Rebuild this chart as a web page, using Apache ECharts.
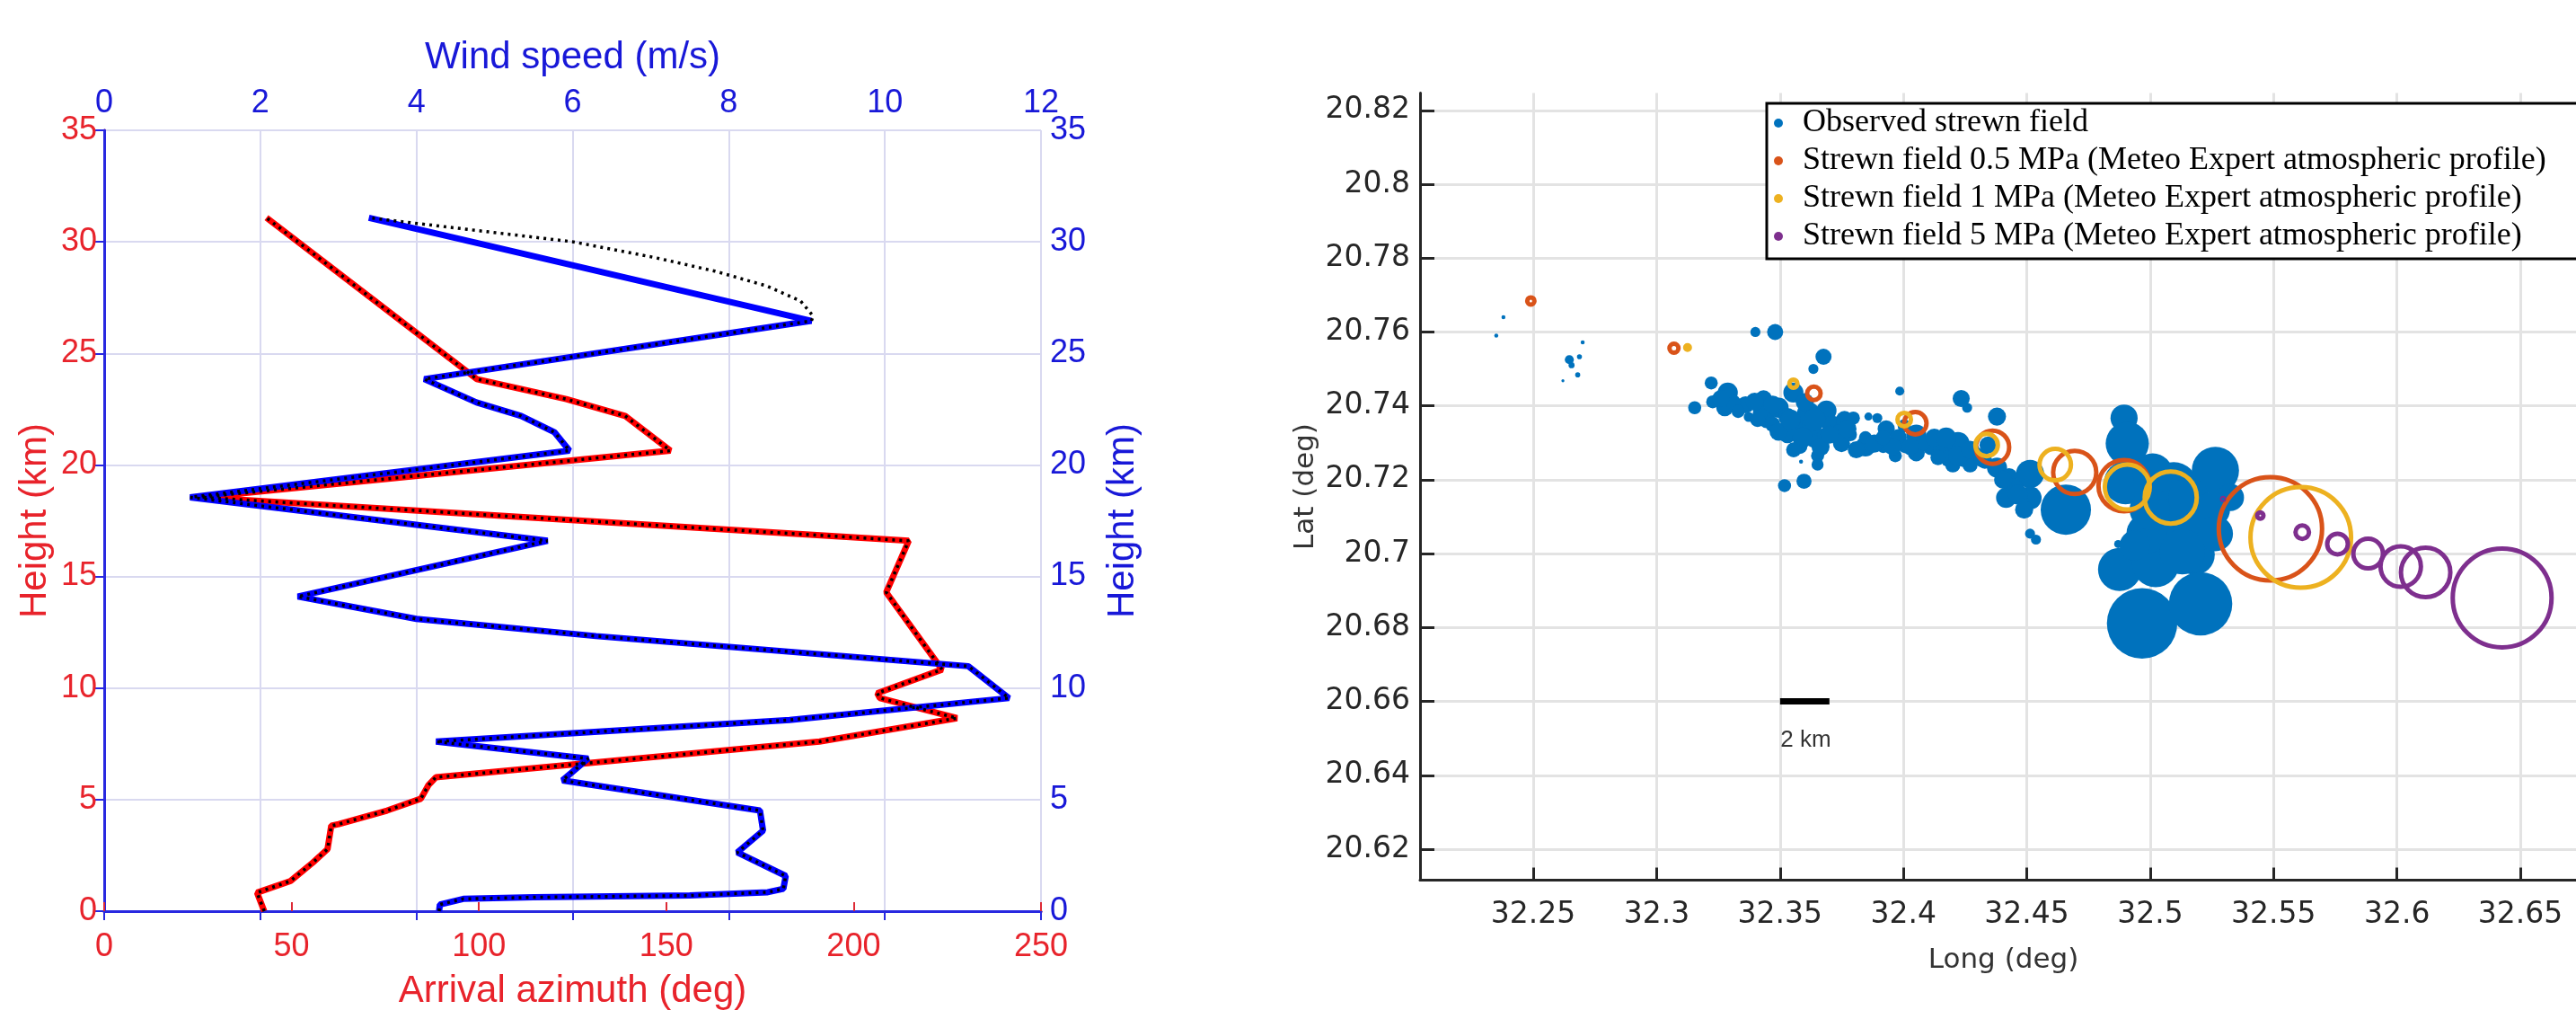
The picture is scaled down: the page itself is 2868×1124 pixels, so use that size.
<!DOCTYPE html>
<html>
<head>
<meta charset="utf-8">
<script src="https://cdn.jsdelivr.net/npm/echarts@6/dist/echarts.min.js"></script>
<style>
  html, body { margin: 0; padding: 0; background: #fff; }
  #chart { width: 2868px; height: 1124px; }
</style>
</head>
<body>
<div id="chart"></div>
<script>
// ---- left panel: profiles vs height ----
const azimuthDeg = [42.7, 40.8, 49.7, 55.7, 59.6, 60.6, 62.6, 75.5, 84.5, 86.5, 88.5, 190.9, 227.6, 207, 206.3, 223.6, 208.7, 214.7, 25.8, 151.1, 139, 123.3, 99.4, 43.3]
const azimuthKm = [0, 0.83, 1.35, 2.18, 2.78, 3.83, 3.9, 4.51, 5.04, 5.64, 6.0, 7.6, 8.65, 9.55, 9.77, 10.83, 14.29, 16.6, 18.55, 20.64, 22.2, 22.95, 23.85, 31.08]

const windSpeed = [4.29, 4.3, 4.6, 5.5, 7.5, 8.5, 8.7, 8.73, 8.11, 8.44, 8.40, 5.87, 6.2, 4.25, 8.78, 11.59, 11.07, 6.3, 4.0, 2.48, 5.68, 1.10, 5.96, 5.77, 5.34, 4.77, 4.10, 9.06, 3.39]
const windKm = [0, 0.3, 0.55, 0.62, 0.7, 0.85, 1.0, 1.58, 2.63, 3.61, 4.51, 5.86, 6.84, 7.6, 8.57, 9.55, 10.98, 12.33, 13.1, 14.1, 16.6, 18.55, 20.64, 21.46, 22.2, 22.8, 23.85, 26.46, 31.08]

// model wind profile (black dotted), differs above 26 km
const windModelSpeed = [4.29, 4.3, 4.6, 5.5, 7.5, 8.5, 8.7, 8.73, 8.11, 8.44, 8.40, 5.87, 6.2, 4.25, 8.78, 11.59, 11.07, 6.3, 4.0, 2.48, 5.68, 1.10, 5.96, 5.77, 5.34, 4.77, 4.10, 9.06, 9.08, 8.92, 8.49, 7.82, 7.06, 6.01, 3.39]
const windModelKm = [0, 0.3, 0.55, 0.62, 0.7, 0.85, 1.0, 1.58, 2.63, 3.61, 4.51, 5.86, 6.84, 7.6, 8.57, 9.55, 10.98, 12.33, 13.1, 14.1, 16.6, 18.55, 20.64, 21.46, 22.2, 22.8, 23.85, 26.46, 26.68, 27.35, 28.02, 28.69, 29.29, 30.0, 31.08]

// ---- right panel: strewn fields (long, lat, marker diameter) ----
const obsLong = [32.2379, 32.2350, 32.2700, 32.2646, 32.2687, 32.2680, 32.2620, 32.2655, 32.3400, 32.3480, 32.3676, 32.3635,
  32.3221, 32.3154, 32.3288, 32.3227, 32.3276, 32.3360, 32.3373, 32.3433, 32.3445, 32.3494, 32.3554, 32.3567, 32.3530,
  32.3615, 32.3640, 32.3652, 32.3652, 32.3688, 32.3712, 32.3761, 32.3797, 32.3749, 32.3785, 32.3846, 32.3858, 32.3894,
  32.3930, 32.3918, 32.3967, 32.3979, 32.3985, 32.4052, 32.4052, 32.4003, 32.4112, 32.4160, 32.4185, 32.4221, 32.4246,
  32.4234, 32.4258, 32.4294, 32.4379, 32.4343, 32.4379, 32.4428, 32.4416, 32.4513, 32.4513, 32.4513, 32.4537, 32.3585,
  32.3518, 32.3597, 32.3846, 32.3506, 32.3420, 32.3470, 32.3530, 32.3600, 32.3580, 32.3680, 32.3630, 32.3740, 32.3310,
  32.3260, 32.3330, 32.4080, 32.4140, 32.4200, 32.4270, 32.4330, 32.4450, 32.4005,
  32.3397, 32.3470, 32.3409, 32.3494, 32.3542, 32.3591, 32.3555, 32.3664, 32.3640, 32.3700, 32.3773, 32.3809, 32.3882,
  32.3955, 32.4028, 32.4125, 32.4173, 32.4222, 32.4270, 32.4319, 32.4404, 32.4464, 32.4489, 32.3918,
  32.4658, 32.4894, 32.4907, 32.4900, 32.4870, 32.5095, 32.5264, 32.5325, 32.5083, 32.5204, 32.4876, 32.5022, 32.5180,
  32.4967, 32.5204, 32.4985, 32.5010, 32.4998, 32.5155, 32.5252, 32.5264, 32.5130, 32.4937]
const obsLat = [20.7640, 20.7590, 20.7572, 20.7525, 20.7533, 20.7484, 20.7468, 20.7510, 20.7600, 20.7600, 20.7533, 20.7500,
  20.7462, 20.7395, 20.7436, 20.7411, 20.7395, 20.7403, 20.7370, 20.7419, 20.7363, 20.7395, 20.7436, 20.7338, 20.7322,
  20.7379, 20.7314, 20.7265, 20.7241, 20.7387, 20.7346, 20.7363, 20.7367, 20.7298, 20.7322, 20.7290, 20.7371, 20.7367,
  20.7338, 20.7290, 20.7265, 20.7314, 20.7440, 20.7322, 20.7273, 20.7346, 20.7290, 20.7281, 20.7257, 20.7298, 20.7257,
  20.7420, 20.7395, 20.7265, 20.7371, 20.7294, 20.7233, 20.7208, 20.7151, 20.7216, 20.7151, 20.7054, 20.7038, 20.7249,
  20.7184, 20.7196, 20.7314, 20.7395, 20.7380, 20.7350, 20.7370, 20.7410, 20.7290, 20.7320, 20.7350, 20.7330, 20.7410,
  20.7420, 20.7385, 20.7300, 20.7260, 20.7240, 20.7240, 20.7250, 20.7180, 20.7290,
  20.7411, 20.7403, 20.7363, 20.7330, 20.7363, 20.7314, 20.7281, 20.7289, 20.7363, 20.7322, 20.7338, 20.7281, 20.7298,
  20.7290, 20.7290, 20.7314, 20.7314, 20.7265, 20.7281, 20.7257, 20.7200, 20.7160, 20.7119, 20.7314,
  20.7119, 20.7367, 20.7298, 20.7192, 20.7026, 20.7184, 20.7225, 20.7152, 20.7070, 20.7070, 20.6957, 20.6973, 20.6997,
  20.6811, 20.6864, 20.7054, 20.7217, 20.7119, 20.7152, 20.7119, 20.7054, 20.7005, 20.7022]
const obsMarker = [4, 4, 4, 9, 5, 5, 3, 6, 10, 16, 16, 10,
  13, 13, 20, 13, 17, 17, 10, 17, 17, 20, 20, 23, 17,
  23, 20, 13, 12, 20, 20, 17, 13, 17, 13, 20, 8, 10,
  17, 13, 13, 17, 9, 20, 17, 13, 17, 20, 17, 23, 17,
  17, 10, 17, 18, 17, 20, 17, 20, 28, 23, 10, 10, 4,
  13, 15, 13, 13, 15, 15, 18, 18, 15, 15, 20, 15, 15,
  17, 13, 15, 15, 15, 15, 15, 17, 13,
  18, 18, 15, 18, 20, 20, 15, 18, 22, 18, 18, 17, 18,
  17, 17, 18, 20, 20, 18, 17, 18, 20, 18, 15,
  50, 27, 43, 43, 8, 47, 47, 27, 50, 53, 43, 47, 40,
  70, 63, 40, 40, 40, 40, 35, 35, 45, 30]

const p05Long = [32.2490, 32.3070, 32.3637, 32.4048, 32.4361, 32.4694, 32.4894, 32.5487]
const p05Lat = [20.7684, 20.7556, 20.7434, 20.7353, 20.7288, 20.7220, 20.7184, 20.7067]
const p05Marker = [13, 15, 20, 30, 42, 53, 62, 120]

const p1Long = [32.3125, 32.3554, 32.4003, 32.4337, 32.4615, 32.4907, 32.5083, 32.5610]
const p1Lat = [20.7558, 20.7460, 20.7363, 20.7294, 20.7241, 20.7180, 20.7152, 20.7044]
const p1Marker = [10, 14, 20, 30, 40, 55, 63, 117]

const p5Long = [32.5295, 32.5446, 32.5616, 32.5759, 32.5883, 32.6015, 32.6116, 32.6426]
const p5Lat = [20.7148, 20.7103, 20.7058, 20.7026, 20.7000, 20.6965, 20.6949, 20.6880]
const p5Marker = [7, 12, 20, 28, 38, 50, 60, 115]

const longTicks = [32.25, 32.3, 32.35, 32.4, 32.45, 32.5, 32.55, 32.6, 32.65]
const latTicks = [20.62, 20.64, 20.66, 20.68, 20.7, 20.72, 20.74, 20.76, 20.78, 20.8, 20.82]

const scaleBarLong = [32.35, 32.37]
const scaleBarLat = 20.66
const scaleLabelLat = 20.6495

const legendNames = [
  'Observed strewn field',
  'Strewn field 0.5 MPa (Meteo Expert atmospheric profile)',
  'Strewn field 1 MPa (Meteo Expert atmospheric profile)',
  'Strewn field 5 MPa (Meteo Expert atmospheric profile)'
]

const zip = (xs, ys, ss) => xs.map((x, i) => ss ? [x, ys[i], ss[i]] : [x, ys[i]])

const RED = '#ff0000'
const RED_TXT = '#e8232b'
const BLUE = '#0000ff'
const BLUE_TXT = '#1818d8'
const GRID_L = '#d9d9f0'
const DARK = '#262626'
const OBS = '#0072bd'
const C05 = '#d95319'
const C1 = '#edb120'
const C5 = '#7e2f8e'

const chart = echarts.init(document.getElementById('chart'))

function ringSeries(name, color, data) {
  return {
    name: name,
    type: 'scatter',
    xAxisIndex: 2,
    yAxisIndex: 2,
    data: data,
    symbol: 'circle',
    symbolSize: v => Math.max(v[2] - 5, 2),
    itemStyle: { color: 'rgba(0,0,0,0)', borderColor: color, borderWidth: 5, opacity: 1 },
    emphasis: { disabled: true }
  }
}

chart.setOption({
  animation: false,
  backgroundColor: '#fff',
  grid: [
    { left: 116, top: 145, width: 1043, height: 869, outerBoundsMode: 'none' },
    { left: 1581, top: 103.5, width: 1299, height: 876, outerBoundsMode: 'none' }
  ],
  legend: {
    orient: 'vertical',
    left: 1967,
    top: 115,
    data: [
      { name: legendNames[0], itemStyle: { color: OBS } },
      { name: legendNames[1], itemStyle: { color: C05, borderWidth: 0 } },
      { name: legendNames[2], itemStyle: { color: C1, borderWidth: 0 } },
      { name: legendNames[3], itemStyle: { color: C5, borderWidth: 0 } }
    ],
    backgroundColor: '#fff',
    borderColor: '#000',
    borderWidth: 3,
    padding: [4, 100, 7, 8],
    itemGap: 6,
    itemWidth: 36,
    itemHeight: 10,
    textStyle: {
      fontFamily: 'Liberation Serif',
      fontSize: 36,
      lineHeight: 36,
      color: '#000',
      padding: [0, 0, 0, 4]
    }
  },
  xAxis: [
    {
      gridIndex: 0, type: 'value', position: 'bottom',
      min: 0, max: 250, interval: 50,
      name: 'Arrival azimuth (deg)', nameLocation: 'middle', nameGap: 68,
      nameTextStyle: { color: RED_TXT, fontSize: 42, fontFamily: 'Liberation Sans' },
      axisLine: { lineStyle: { color: '#dd2a35', width: 3 } },
      axisTick: { inside: true, length: 10, lineStyle: { color: '#dd2a35', width: 2 } },
      axisLabel: { color: RED_TXT, fontSize: 36, fontFamily: 'Liberation Sans', margin: 22 },
      splitLine: { show: false }
    },
    {
      gridIndex: 0, type: 'value', position: 'top',
      min: 0, max: 12, interval: 2,
      name: 'Wind speed (m/s)', nameLocation: 'middle', nameGap: 60,
      nameTextStyle: { color: BLUE_TXT, fontSize: 42, fontFamily: 'Liberation Sans' },
      axisLine: { lineStyle: { color: '#2828e0', width: 3 } },
      axisTick: { inside: true, length: 10, lineStyle: { color: '#2828e0', width: 2 } },
      axisLabel: { color: BLUE_TXT, fontSize: 36, fontFamily: 'Liberation Sans', margin: 12 },
      splitLine: { show: true, lineStyle: { color: GRID_L, width: 2 } }
    },
    {
      gridIndex: 1, type: 'value', position: 'bottom',
      min: 32.2041, max: 32.6769,
      name: 'Long (deg)', nameLocation: 'middle', nameGap: 74,
      nameTextStyle: { color: '#333', fontSize: 31, fontFamily: 'DejaVu Sans' },
      axisLine: { lineStyle: { color: DARK, width: 3 } },
      axisTick: { inside: true, length: 14, customValues: longTicks, lineStyle: { color: DARK, width: 3 } },
      axisLabel: { color: DARK, fontSize: 33, fontFamily: 'DejaVu Sans', margin: 22, customValues: longTicks },
      splitLine: { show: true, lineStyle: { color: '#e3e3e3', width: 3 } }
    }
  ],
  yAxis: [
    {
      gridIndex: 0, type: 'value', position: 'left',
      min: 0, max: 35, interval: 5,
      name: 'Height (km)', nameLocation: 'middle', nameGap: 56,
      nameTextStyle: { color: RED_TXT, fontSize: 42, fontFamily: 'Liberation Sans' },
      axisLine: { show: true, lineStyle: { color: '#dd2a35', width: 3 } },
      axisTick: { show: false },
      axisLabel: { color: RED_TXT, fontSize: 36, fontFamily: 'Liberation Sans', margin: 8 },
      splitLine: { show: true, lineStyle: { color: GRID_L, width: 2 } }
    },
    {
      gridIndex: 0, type: 'value', position: 'right',
      min: 0, max: 35, interval: 5,
      name: 'Height (km)', nameLocation: 'middle', nameGap: 70,
      nameTextStyle: { color: BLUE_TXT, fontSize: 42, fontFamily: 'Liberation Sans' },
      axisLine: { show: true, lineStyle: { color: '#2828e0', width: 3 } },
      axisTick: { show: true, inside: true, length: 10, lineStyle: { color: '#2828e0', width: 2 } },
      axisLabel: { color: BLUE_TXT, fontSize: 36, fontFamily: 'Liberation Sans', margin: 10 },
      splitLine: { show: false }
    },
    {
      gridIndex: 1, type: 'value', position: 'left',
      min: 20.6116, max: 20.8247,
      name: 'Lat (deg)', nameLocation: 'middle', nameGap: 112,
      nameTextStyle: { color: '#333', fontSize: 31, fontFamily: 'DejaVu Sans' },
      axisLine: { show: true, lineStyle: { color: DARK, width: 3 } },
      axisTick: { show: true, inside: true, length: 16, customValues: latTicks, lineStyle: { color: DARK, width: 3 } },
      axisLabel: { color: DARK, fontSize: 33, fontFamily: 'DejaVu Sans', margin: 11, customValues: latTicks },
      splitLine: { show: true, lineStyle: { color: '#e3e3e3', width: 3 } }
    }
  ],
  series: [
    {
      name: 'azimuth', type: 'line', xAxisIndex: 0, yAxisIndex: 0,
      data: zip(azimuthDeg, azimuthKm), showSymbol: false, silent: true,
      lineStyle: { color: RED, width: 7 }
    },
    {
      name: 'wind', type: 'line', xAxisIndex: 1, yAxisIndex: 1,
      data: zip(windSpeed, windKm), showSymbol: false, silent: true,
      lineStyle: { color: BLUE, width: 7 }
    },
    {
      name: 'azimuth model', type: 'line', xAxisIndex: 0, yAxisIndex: 0,
      data: zip(azimuthDeg, azimuthKm), showSymbol: false, silent: true,
      lineStyle: { color: '#000', width: 3.5, type: [3, 5] }
    },
    {
      name: 'wind model', type: 'line', xAxisIndex: 1, yAxisIndex: 1,
      data: zip(windModelSpeed, windModelKm), showSymbol: false, silent: true,
      lineStyle: { color: '#000', width: 3.5, type: [3, 5] }
    },
    {
      name: legendNames[0], type: 'scatter', xAxisIndex: 2, yAxisIndex: 2,
      data: zip(obsLong, obsLat, obsMarker),
      symbolSize: v => v[2] * 1.12,
      itemStyle: { color: OBS, opacity: 1 },
      emphasis: { disabled: true }
    },
    ringSeries(legendNames[1], C05, zip(p05Long, p05Lat, p05Marker)),
    ringSeries(legendNames[2], C1, zip(p1Long, p1Lat, p1Marker)),
    ringSeries(legendNames[3], C5, zip(p5Long, p5Lat, p5Marker)),
    {
      name: 'scale bar', type: 'line', xAxisIndex: 2, yAxisIndex: 2,
      data: scaleBarLong.map(x => [x, scaleBarLat]), showSymbol: false, silent: true,
      lineStyle: { color: '#000', width: 7, cap: 'butt' }, z: 5
    },
    {
      name: 'scale label', type: 'scatter', xAxisIndex: 2, yAxisIndex: 2,
      data: [[scaleBarLong[0], scaleLabelLat]], symbolSize: 1, silent: true,
      itemStyle: { color: 'rgba(0,0,0,0)' },
      label: {
        show: true, position: 'right', distance: 0, formatter: '2 km',
        color: '#000', fontSize: 26, fontFamily: 'Liberation Sans'
      }
    }
  ]
})
</script>
</body>
</html>
